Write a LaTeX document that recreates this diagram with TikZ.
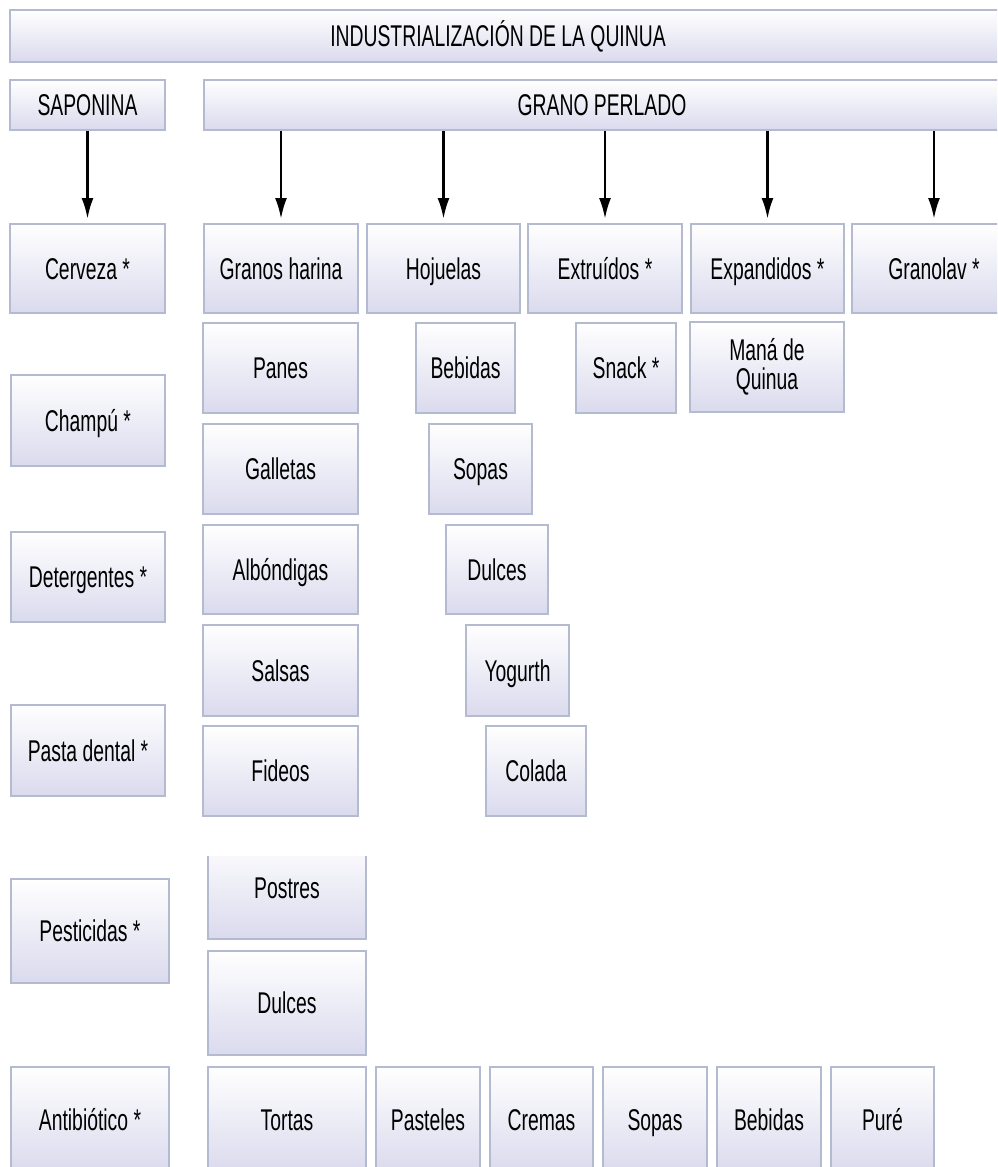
\documentclass[tikz,border=0pt]{standalone}
\usepackage{fontspec}
\setmainfont[FakeStretch=0.645]{Liberation Sans}
\usetikzlibrary{arrows.meta}

\definecolor{boxline}{RGB}{180,186,208}
\definecolor{boxbot}{RGB}{218,218,238}

\tikzset{
  base/.style = {shape=rectangle, draw=boxline, line width=2pt,
                 top color=white, bottom color=boxbot,
                 inner sep=0pt, align=center,
                 font=\fontsize{30}{31}\selectfont},
  prod/.style = {base, text height=21.5pt, text depth=0pt},
  std/.style  = {minimum width=155pt, minimum height=90pt},
  flecha/.style = {line width=2.6pt, -{Latex[length=21pt,width=12pt]},
                   shorten >=4pt}
}

\begin{document}
\begin{tikzpicture}[x=1pt, y=-1pt]
  \useasboundingbox (0,0) rectangle (997,1167);
  \clip (0,0) rectangle (997,1167);

  % cabecera
  \node[prod, minimum width=1000pt, minimum height=52pt] (titulo) at (510,36)
    {\hspace*{-24pt}INDUSTRIALIZACIÓN DE LA QUINUA};
  \node[prod, minimum width=155pt, minimum height=50pt] (saponina) at (87.5,105) {SAPONINA};
  \node[prod, minimum width=796pt, minimum height=50pt] (perlado) at (602,105) {GRANO PERLADO};

  % primera fila
  \node[prod, std, minimum height=89pt] (cerveza) at (87.5,268.5) {Cerveza *};
  \node[prod, std, minimum height=89pt, minimum width=154pt] (granos) at (281,268.5) {Granos harina};
  \node[prod, std, minimum height=89pt, minimum width=153pt] (hojuelas) at (443.5,268.5) {Hojuelas};
  \node[prod, std, minimum height=89pt, minimum width=154pt] (extruidos) at (605,268.5) {Extruídos *};
  \node[prod, std, minimum height=89pt, minimum width=153pt] (expandidos) at (767.5,268.5) {Expandidos *};
  \node[prod, std, minimum height=89pt, minimum width=164pt] (granolav) at (934,268.5) {Granolav *};

  % saponina
  \node[prod, std, minimum height=91pt, minimum width=154pt] (champu) at (88,420.5) {Champú *};
  \node[prod, std, minimum width=154pt] (detergentes) at (88,577) {Detergentes *};
  \node[prod, std, minimum height=91pt, minimum width=154pt] (pasta) at (88,750.5) {Pasta dental *};
  \node[prod, std, minimum height=104pt, minimum width=158pt] (pesticidas) at (90,931) {Pesticidas *};
  \node[prod, std, minimum height=105pt, minimum width=158pt] (antibiotico) at (90,1119.5) {Antibiótico *};

  % granos harina
  \node[prod, std] (panes) at (280.5,368) {Panes};
  \node[prod, std] (galletas) at (280.5,469) {Galletas};
  \node[prod, std, minimum height=89pt] (albondigas) at (280.5,569.5) {Albóndigas};
  \node[prod, std, minimum height=91pt] (salsas) at (280.5,670.5) {Salsas};
  \node[prod, std] (fideos) at (280.5,771) {Fideos};
  \begin{scope}
    \clip (0,856) rectangle (997,1167);
    \node[prod, std, minimum height=102pt, minimum width=158pt] (postres) at (287,888) {Postres};
  \end{scope}
  \node[prod, std, minimum height=104pt, minimum width=158pt] (dulcesb) at (287,1003) {Dulces};

  % hojuelas
  \node[prod, std, minimum width=99pt] (bebidas) at (465.5,368) {Bebidas};
  \node[prod, std, minimum width=103pt] (sopas) at (480.5,469) {Sopas};
  \node[prod, std, minimum height=89pt, minimum width=102pt] (dulces) at (497,569.5) {Dulces};
  \node[prod, std, minimum height=91pt, minimum width=103pt] (yogurth) at (517.5,670.5) {Yogurth};
  \node[prod, std, minimum width=100pt] (colada) at (536,771) {Colada};

  % extruidos y expandidos
  \node[prod, std, minimum width=100pt] (snack) at (626,368) {Snack *};
  \node[base, std, minimum width=154pt, font=\fontsize{30}{29}\selectfont] (mana) at (767,367) {Maná de\\Quinua};

  % ultima fila
  \node[prod, std, minimum height=105pt, minimum width=158pt] (tortas) at (287,1119.5) {Tortas};
  \node[prod, std, minimum height=105pt, minimum width=104pt] (pasteles) at (428,1119.5) {Pasteles};
  \node[prod, std, minimum height=105pt, minimum width=103pt] (cremas) at (541.5,1119.5) {Cremas};
  \node[prod, std, minimum height=105pt, minimum width=104pt] (sopasb) at (655,1119.5) {Sopas};
  \node[prod, std, minimum height=105pt, minimum width=104pt] (bebidasb) at (769,1119.5) {Bebidas};
  \node[prod, std, minimum height=105pt, minimum width=103pt] (pure) at (882.5,1119.5) {Puré};

  % flechas
  \draw[flecha] (saponina) -- (cerveza);
  \foreach \hijo in {granos,hojuelas,extruidos,expandidos,granolav}
    \draw[flecha] (perlado.south -| \hijo) -- (\hijo);
\end{tikzpicture}
\end{document}
